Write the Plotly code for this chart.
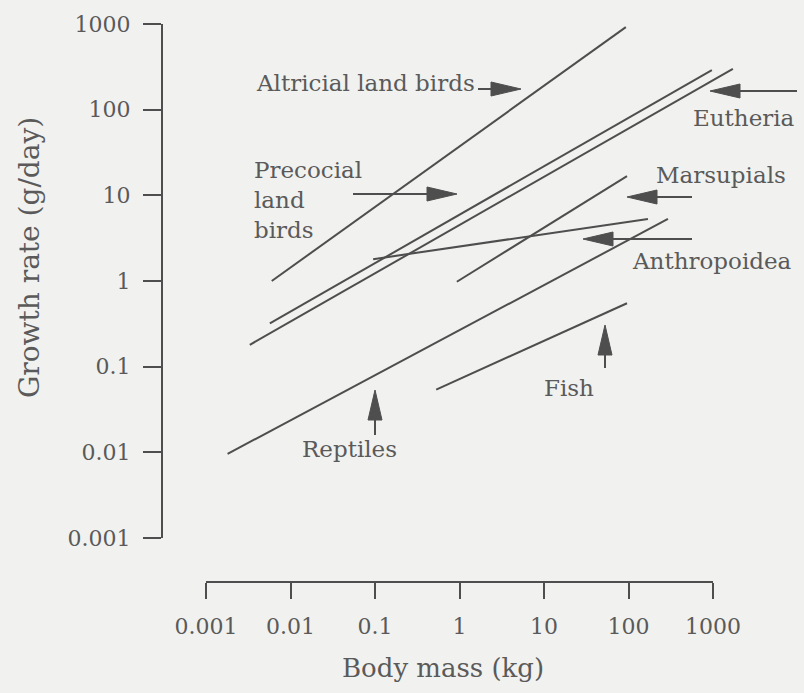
import math
import plotly.graph_objects as go

W, H = 804, 693

# line endpoints: body mass (kg), growth rate (g/day)
altricial_mass = [0.006, 93]
altricial_rate = [1.0, 920]
precocial_mass = [0.0057, 970]
precocial_rate = [0.32, 290]
eutheria_mass = [0.0033, 1720]
eutheria_rate = [0.18, 300]
marsupial_mass = [0.93, 96]
marsupial_rate = [0.98, 16.8]
anthropoid_mass = [0.095, 170]
anthropoid_rate = [1.8, 5.3]
reptile_mass = [0.0018, 293]
reptile_rate = [0.0096, 5.3]
fish_mass = [0.53, 96]
fish_rate = [0.054, 0.55]

tick_vals = [0.001, 0.01, 0.1, 1, 10, 100, 1000]
tick_text = ["0.001", "0.01", "0.1", "1", "10", "100", "1000"]

INK = "#4e4e4e"
TXT = "#5a5a5a"
BG = "#f1f1ef"
FONT = "DejaVu Serif"


def px(x, y):
    # pixel position -> paper fraction
    return x / W, 1 - y / H


fig = go.Figure()

lines = [
    (altricial_mass, altricial_rate),
    (precocial_mass, precocial_rate),
    (eutheria_mass, eutheria_rate),
    (marsupial_mass, marsupial_rate),
    (anthropoid_mass, anthropoid_rate),
    (reptile_mass, reptile_rate),
    (fish_mass, fish_rate),
]
for m, r in lines:
    fig.add_trace(go.Scatter(x=m, y=r, mode="lines", line=dict(color=INK, width=2),
                             showlegend=False, hoverinfo="skip"))

# dummy trace so the visible axis pair exists
fig.add_trace(go.Scatter(x=[1], y=[1], xaxis="x2", yaxis="y2", mode="markers",
                         marker=dict(opacity=0), showlegend=False, hoverinfo="skip"))

shapes = []


def arrow(tail, tip, length=30, half=7):
    dx, dy = tip[0] - tail[0], tip[1] - tail[1]
    d = math.hypot(dx, dy)
    ux, uy = dx / d, dy / d
    bx, by = tip[0] - ux * length, tip[1] - uy * length
    x0, y0 = px(*tail)
    x1, y1 = px(bx, by)
    shapes.append(dict(type="line", xref="paper", yref="paper", x0=x0, y0=y0, x1=x1, y1=y1,
                       line=dict(color=INK, width=2)))
    p1 = px(*tip)
    p2 = px(bx - uy * half, by + ux * half)
    p3 = px(bx + uy * half, by - ux * half)
    path = "M {} {} L {} {} L {} {} Z".format(p1[0], p1[1], p2[0], p2[1], p3[0], p3[1])
    shapes.append(dict(type="path", xref="paper", yref="paper", path=path,
                       fillcolor=INK, line=dict(color=INK, width=1)))


arrow((478, 89), (521, 89))    # altricial
arrow((353, 194), (457, 194))  # precocial
arrow((797, 91), (710, 91))    # eutheria
arrow((692, 197), (627, 197))  # marsupials
arrow((692, 239), (583, 239))  # anthropoidea
arrow((605, 368), (605, 325))  # fish
arrow((375, 435), (375, 390))  # reptiles

annotations = []


def label(text, x, y, xanchor="left", size=23, angle=0):
    fx, fy = px(x, y)
    annotations.append(dict(text=text, x=fx, y=fy, xref="paper", yref="paper",
                            xanchor=xanchor, yanchor="middle", showarrow=False,
                            textangle=angle, align="left",
                            font=dict(family=FONT, size=size, color=TXT)))


label("Altricial land birds", 254, 83)
label("Precocial<br>land<br>birds", 252, 200)
label("Eutheria", 797, 118, xanchor="right")
label("Marsupials", 788, 175, xanchor="right")
label("Anthropoidea", 794, 261, xanchor="right")
label("Fish", 569, 388, xanchor="center")
label("Reptiles", 349, 449, xanchor="center")
label("Growth rate (g/day)", 29, 258, xanchor="center", size=28, angle=-90)
label("Body mass (kg)", 443, 668, xanchor="center", size=26)

tickfont = dict(family=FONT, size=22, color=TXT)

fig.update_layout(
    width=W, height=H,
    margin=dict(l=0, r=0, t=0, b=0),
    paper_bgcolor=BG, plot_bgcolor="rgba(0,0,0,0)",
    xaxis=dict(type="log", domain=[0, 1], range=[-3 - 206 / 84.5, -3 + 598 / 84.5],
               visible=False, anchor="y"),
    yaxis=dict(type="log", domain=[0, 1], range=[3 - 669 / 85.67, 3 + 24 / 85.67],
               visible=False, anchor="x"),
    xaxis2=dict(type="log", domain=[206 / W, 713 / W], range=[-3, 3], anchor="free",
                position=(H - 582) / H, showline=True, linecolor=INK, linewidth=2,
                ticks="outside", ticklen=16, tickwidth=2, tickcolor=INK,
                tickvals=tick_vals, ticktext=tick_text, tickfont=tickfont,
                ticklabelstandoff=9, showgrid=False, zeroline=False, automargin=False),
    yaxis2=dict(type="log", domain=[(H - 538) / H, (H - 24) / H], range=[-3, 3], anchor="free",
                position=162 / W, showline=True, linecolor=INK, linewidth=2,
                ticks="outside", ticklen=18, tickwidth=2, tickcolor=INK,
                tickvals=tick_vals, ticktext=tick_text, tickfont=tickfont,
                ticklabelstandoff=8, showgrid=False, zeroline=False, automargin=False),
    shapes=shapes,
    annotations=annotations,
)

# drop the page's default body margin so the figure sits at the window origin
fig.write_html("out.html", config={"displayModeBar": False},
               post_script="document.body.style.margin='0';")
